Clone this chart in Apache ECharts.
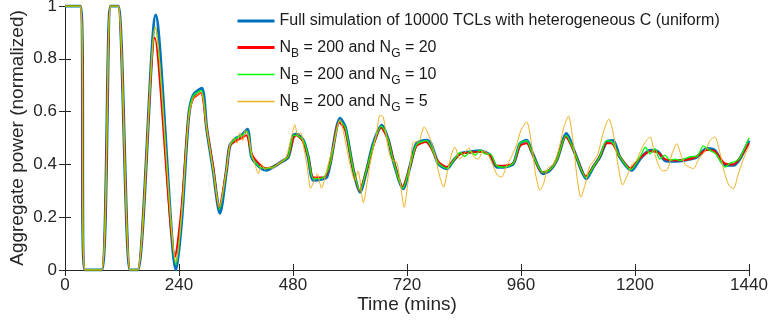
<!DOCTYPE html>
<html>
<head>
<meta charset="utf-8">
<script src="https://cdn.jsdelivr.net/npm/echarts@6/dist/echarts.min.js"></script>
<style>html,body{margin:0;padding:0;background:#fff;}#c{width:771px;height:323px;}</style>
</head>
<body>
<div id="c"></div>
<script>
// ---- data (time in mins, normalized aggregate power) ----
const seriesNames = [
  'Full simulation of 10000 TCLs with heterogeneous C (uniform)',
  'N{sub|B} = 200 and N{sub|G} = 20',
  'N{sub|B} = 200 and N{sub|G} = 10',
  'N{sub|B} = 200 and N{sub|G} = 5'
];
const tFull = [0,32,42,77,96,112,137,153,191,234,246,260,270,288,298,312,326,340,347,361,372,384,393,410,424,438,456,470,481,487,502,512,523,544,551,558,579,590,607,621,635,649,667,681,691,712,726,740,761,770,786,804,818,832,853,874,895,909,923,944,958,972,983,1007,1021,1035,1056,1074,1098,1112,1126,1140,1154,1168,1193,1211,1232,1249,1263,1284,1309,1330,1351,1368,1390,1407,1421,1440];
const pFull = [1,1,0,0,1,1,0,0,0.966,0,0.2,0.575,0.662,0.688,0.54,0.378,0.215,0.378,0.47,0.5,0.51,0.533,0.428,0.39,0.378,0.39,0.41,0.428,0.51,0.515,0.49,0.428,0.34,0.346,0.352,0.4,0.574,0.542,0.378,0.295,0.378,0.479,0.548,0.491,0.415,0.308,0.39,0.479,0.491,0.48,0.403,0.384,0.415,0.441,0.447,0.451,0.435,0.39,0.39,0.403,0.479,0.491,0.447,0.365,0.378,0.415,0.517,0.441,0.346,0.39,0.428,0.485,0.49,0.428,0.378,0.422,0.453,0.447,0.415,0.412,0.418,0.428,0.46,0.453,0.397,0.397,0.422,0.49];

const tG20 = [0,32,42,77,96,112,137,153,189,232,246,260,270,286,298,312,324,340,347,361,372,382,393,410,424,438,456,470,481,487,500,512,523,544,558,577,590,607,620,635,649,665,681,691,710,726,740,760,786,804,818,832,853,874,895,909,923,944,958,972,983,1005,1021,1035,1054,1074,1096,1112,1126,1140,1150,1168,1190,1211,1232,1249,1263,1284,1309,1330,1351,1368,1388,1407,1421,1440];
const pG20 = [1,1,0,0,1,1,0,0,0.88,0.05,0.25,0.58,0.65,0.67,0.54,0.39,0.235,0.38,0.47,0.49,0.5,0.51,0.44,0.4,0.385,0.39,0.41,0.43,0.5,0.51,0.49,0.43,0.35,0.35,0.4,0.56,0.53,0.38,0.3,0.38,0.47,0.54,0.49,0.42,0.315,0.39,0.47,0.485,0.41,0.39,0.415,0.44,0.445,0.448,0.435,0.395,0.395,0.405,0.47,0.48,0.445,0.37,0.38,0.415,0.505,0.44,0.355,0.39,0.43,0.48,0.48,0.43,0.385,0.425,0.45,0.445,0.42,0.415,0.418,0.43,0.455,0.45,0.405,0.4,0.425,0.48];

const tG10 = [0,32,42,77,96,112,137,153,190,234,246,260,270,287,298,312,325,340,347,361,372,384,393,410,424,438,456,470,481,487,502,512,523,544,558,578,590,607,621,635,649,666,681,691,711,726,740,761,786,804,818,832,842,853,864,874,885,895,909,923,944,958,972,983,1006,1021,1035,1055,1074,1097,1112,1126,1140,1152,1168,1191,1211,1222,1232,1242,1252,1263,1274,1284,1296,1309,1320,1330,1344,1356,1370,1390,1400,1410,1421,1440];
const pG10 = [1,1,0,0,1,1,0,0,0.92,0.02,0.22,0.58,0.66,0.68,0.54,0.38,0.23,0.38,0.47,0.5,0.51,0.525,0.43,0.39,0.385,0.39,0.41,0.43,0.51,0.51,0.49,0.43,0.345,0.35,0.4,0.565,0.54,0.38,0.3,0.38,0.475,0.545,0.49,0.415,0.31,0.39,0.475,0.49,0.405,0.385,0.415,0.445,0.43,0.45,0.435,0.455,0.44,0.44,0.395,0.39,0.405,0.48,0.49,0.445,0.37,0.38,0.415,0.51,0.44,0.35,0.39,0.43,0.49,0.485,0.43,0.38,0.43,0.465,0.44,0.46,0.42,0.435,0.415,0.42,0.415,0.425,0.43,0.43,0.47,0.455,0.44,0.39,0.405,0.41,0.425,0.5];

const tG5 = [0,32,42,77,96,112,137,153,190,234,246,260,270,280,287,298,312,325,340,347,355,362,368,374,380,387,393,400,407,414,421,429,437,446,456,466,476,484,490,496,503,510,517,525,531,540,550,557,565,579,590,600,610,617,628,636,642,649,656,663,670,680,688,698,706,714,722,728,734,744,756,768,779,788,797,806,814,821,831,840,850,860,870,880,890,900,910,919,930,940,950,960,972,982,991,1000,1008,1016,1028,1040,1050,1060,1070,1078,1086,1096,1104,1112,1122,1133,1145,1155,1164,1174,1184,1194,1203,1214,1224,1232,1240,1249,1258,1268,1278,1288,1296,1305,1314,1323,1334,1347,1358,1368,1378,1388,1398,1407,1417,1428,1440];
const pG5 = [1,1,0,0,1,1,0,0,0.92,0.03,0.22,0.57,0.65,0.665,0.67,0.54,0.38,0.24,0.38,0.47,0.5,0.48,0.52,0.49,0.53,0.5,0.44,0.4,0.365,0.4,0.38,0.39,0.385,0.4,0.41,0.43,0.5,0.55,0.51,0.52,0.46,0.39,0.31,0.34,0.365,0.31,0.37,0.42,0.47,0.57,0.49,0.4,0.34,0.375,0.255,0.33,0.4,0.46,0.52,0.586,0.58,0.466,0.415,0.41,0.33,0.238,0.33,0.42,0.485,0.485,0.542,0.5,0.435,0.36,0.314,0.38,0.44,0.465,0.42,0.44,0.462,0.43,0.42,0.452,0.44,0.4,0.36,0.352,0.395,0.43,0.47,0.53,0.561,0.48,0.36,0.302,0.33,0.385,0.4,0.46,0.54,0.583,0.48,0.35,0.276,0.33,0.39,0.41,0.44,0.52,0.572,0.51,0.4,0.322,0.36,0.4,0.415,0.46,0.49,0.504,0.45,0.4,0.375,0.38,0.44,0.479,0.44,0.4,0.39,0.384,0.42,0.45,0.49,0.504,0.45,0.37,0.32,0.308,0.36,0.42,0.47];

const seriesColors = ['#0072BD', '#FF0000', '#00FF00', '#EDB120'];
const seriesWidths = [3.2, 2, 1.3, 1];
const legendWidths = [3, 3, 1.5, 1.5];

function zip(t, p, name) {
  if (t.length !== p.length) throw new Error('length mismatch in ' + name + ': ' + t.length + ' vs ' + p.length);
  return t.map((x, i) => [x, p[i]]);
}
const allT = [tFull, tG20, tG10, tG5];
const allP = [pFull, pG20, pG10, pG5];

const AX = '#262626';
const chart = echarts.init(document.getElementById('c'), null, {renderer: 'canvas'});
const FONT = 'Liberation Sans, Arial, sans-serif';

const baseAxis = {
  axisLine: {show: true, lineStyle: {color: AX, width: 1}},
  axisTick: {show: true, inside: true, length: 6, lineStyle: {color: AX}},
  splitLine: {show: false}
};

chart.setOption({
  animation: false,
  backgroundColor: '#fff',
  textStyle: {fontFamily: FONT},
  grid: {left: 65, right: 22, top: 6, bottom: 53, containLabel: false, outerBoundsMode: 'none'},
  legend: {
    orient: 'vertical',
    left: 236, top: 9, padding: 0,
    itemWidth: 37, itemHeight: 10, itemGap: 2,
    itemStyle: {opacity: 0},
    selectedMode: false,
    textStyle: {
      fontSize: 16, color: '#1a1a1a', fontFamily: FONT, lineHeight: 24,
      rich: {sub: {fontSize: 12, fontFamily: FONT, color: '#1a1a1a', padding: [13, 0, 0, 0], lineHeight: 12}}
    },
    data: seriesNames.map((n, i) => ({name: n, icon: 'inherit', lineStyle: {width: legendWidths[i], color: seriesColors[i]}}))
  },
  xAxis: [
    Object.assign({}, baseAxis, {
      type: 'value', min: 0, max: 1440, interval: 240, position: 'bottom',
      name: 'Time (mins)', nameLocation: 'middle', nameGap: 25, nameMoveOverlap: false,
      nameTextStyle: {fontSize: 19, color: AX, fontFamily: FONT},
      axisLabel: {fontSize: 17, color: AX, margin: 7, fontFamily: FONT, formatter: v => String(v)}
    }),
    Object.assign({}, baseAxis, {
      type: 'value', min: 0, max: 1440, interval: 240, position: 'top',
      axisLabel: {show: false}
    })
  ],
  yAxis: [
    Object.assign({}, baseAxis, {
      type: 'value', min: 0, max: 1, interval: 0.2, position: 'left',
      name: 'Aggregate power (normalized)', nameLocation: 'middle', nameGap: 38, nameMoveOverlap: false,
      nameTextStyle: {fontSize: 19, color: AX, fontFamily: FONT},
      axisLabel: {fontSize: 17, color: AX, margin: 8, fontFamily: FONT}
    }),
    Object.assign({}, baseAxis, {
      type: 'value', min: 0, max: 1, interval: 0.2, position: 'right',
      axisLabel: {show: false}
    })
  ],
  series: seriesNames.map((n, i) => ({
    name: n,
    type: 'line',
    xAxisIndex: 0, yAxisIndex: 0,
    data: zip(allT[i], allP[i], n),
    symbol: 'none',
    smooth: 0.25,
    clip: true,
    lineStyle: {color: seriesColors[i], width: seriesWidths[i]},
    itemStyle: {color: seriesColors[i]},
    emphasis: {disabled: true}
  }))
});
</script>
</body>
</html>
